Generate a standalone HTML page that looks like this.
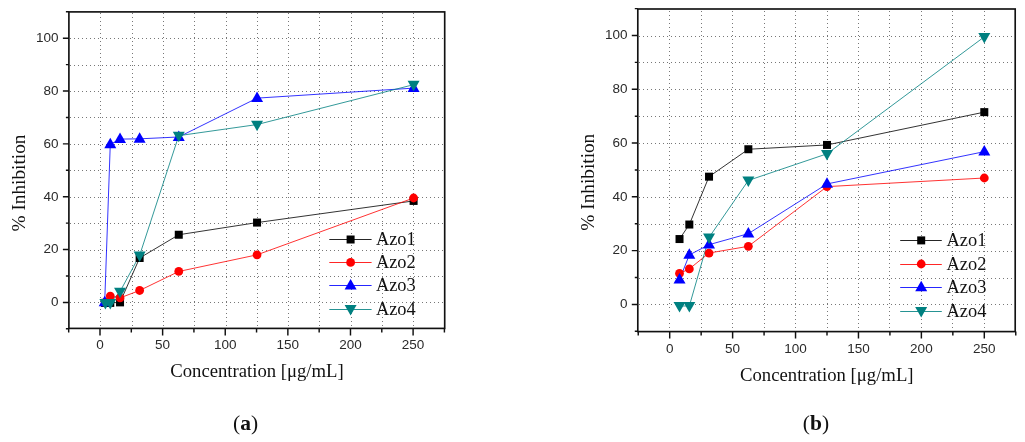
<!DOCTYPE html>
<html><head><meta charset="utf-8"><title>Inhibition charts</title>
<style>
html,body{margin:0;padding:0;background:#fff;}
body{width:1025px;height:442px;overflow:hidden;font-family:"Liberation Sans", sans-serif;}
svg{display:block;will-change:transform;}
</style></head><body>
<svg width="1025" height="442" viewBox="0 0 1025 442">
<rect width="1025" height="442" fill="#fff"/>
<path d="M100.5 13V326.9M132.5 13V326.9M163.5 13V326.9M194.5 13V326.9M226.5 13V326.9M257.5 13V326.9M288.5 13V326.9M319.5 13V326.9M351.5 13V326.9M382.5 13V326.9M413.5 13V326.9M70 302.5H443.2M70 276.5H443.2M70 250.5H443.2M70 223.5H443.2M70 197.5H443.2M70 170.5H443.2M70 144.5H443.2M70 117.5H443.2M70 91.5H443.2M70 65.5H443.2M70 38.5H443.2" stroke="#777" stroke-width="1" stroke-dasharray="1 3" fill="none"/>
<path d="M68.69 328.4V332.4M100 328.4V335.4M131.31 328.4V332.4M162.62 328.4V335.4M193.93 328.4V332.4M225.24 328.4V335.4M256.55 328.4V332.4M287.86 328.4V335.4M319.17 328.4V332.4M350.48 328.4V335.4M381.79 328.4V332.4M413.1 328.4V335.4M444.41 328.4V332.4M68.9 328.82H65.9M68.9 302.4H62.9M68.9 275.98H65.9M68.9 249.56H62.9M68.9 223.14H65.9M68.9 196.72H62.9M68.9 170.3H65.9M68.9 143.88H62.9M68.9 117.46H65.9M68.9 91.04H62.9M68.9 64.62H65.9M68.9 38.2H62.9M68.9 11.78H65.9" stroke="#111" stroke-width="1.45" fill="none"/>
<rect x="68.9" y="11.9" width="375.8" height="316.5" fill="none" stroke="#111" stroke-width="1.65"/>
<polyline points="104.88,302.9 110.27,302.9 120.04,302.37 139.64,257.99 178.77,234.74 257.05,222.58 413.6,200.92" fill="none" stroke="#000000" stroke-width="1" stroke-opacity="0.8"/>
<polyline points="105.38,302.11 110.27,296.03 120.04,297.88 139.64,290.48 178.77,271.46 257.05,254.82 413.6,198.01" fill="none" stroke="#ff0000" stroke-width="1" stroke-opacity="0.8"/>
<polyline points="104.7,302.37 110.27,144.38 120.04,139.1 139.64,138.83 178.77,136.98 257.05,98.14 413.6,88.11" fill="none" stroke="#0000ff" stroke-width="1" stroke-opacity="0.8"/>
<polyline points="105.38,302.9 110.27,302.9 120.04,291.54 139.64,255.34 178.77,135.66 257.05,124.56 413.6,84.67" fill="none" stroke="#008080" stroke-width="1" stroke-opacity="0.8"/>
<rect x="100.88" y="298.9" width="8" height="8" fill="#000000"/>
<rect x="106.27" y="298.9" width="8" height="8" fill="#000000"/>
<rect x="116.04" y="298.37" width="8" height="8" fill="#000000"/>
<rect x="135.64" y="253.99" width="8" height="8" fill="#000000"/>
<rect x="174.77" y="230.74" width="8" height="8" fill="#000000"/>
<rect x="253.05" y="218.58" width="8" height="8" fill="#000000"/>
<rect x="409.6" y="196.92" width="8" height="8" fill="#000000"/>
<circle cx="105.38" cy="302.11" r="4.4" fill="#ff0000"/>
<circle cx="110.27" cy="296.03" r="4.4" fill="#ff0000"/>
<circle cx="120.04" cy="297.88" r="4.4" fill="#ff0000"/>
<circle cx="139.64" cy="290.48" r="4.4" fill="#ff0000"/>
<circle cx="178.77" cy="271.46" r="4.4" fill="#ff0000"/>
<circle cx="257.05" cy="254.82" r="4.4" fill="#ff0000"/>
<circle cx="413.6" cy="198.01" r="4.4" fill="#ff0000"/>
<polygon points="104.7,295.77 110.7,306.27 98.7,306.27" fill="#0000ff"/>
<polygon points="110.27,137.78 116.27,148.28 104.27,148.28" fill="#0000ff"/>
<polygon points="120.04,132.5 126.04,143 114.04,143" fill="#0000ff"/>
<polygon points="139.64,132.23 145.64,142.73 133.64,142.73" fill="#0000ff"/>
<polygon points="178.77,130.38 184.77,140.88 172.77,140.88" fill="#0000ff"/>
<polygon points="257.05,91.54 263.05,102.04 251.05,102.04" fill="#0000ff"/>
<polygon points="413.6,81.51 419.6,92.01 407.6,92.01" fill="#0000ff"/>
<polygon points="105.38,309.5 111.38,299 99.38,299" fill="#008080"/>
<polygon points="110.27,309.5 116.27,299 104.27,299" fill="#008080"/>
<polygon points="120.04,298.14 126.04,287.64 114.04,287.64" fill="#008080"/>
<polygon points="139.64,261.94 145.64,251.44 133.64,251.44" fill="#008080"/>
<polygon points="178.77,142.26 184.77,131.76 172.77,131.76" fill="#008080"/>
<polygon points="257.05,131.16 263.05,120.66 251.05,120.66" fill="#008080"/>
<polygon points="413.6,91.27 419.6,80.77 407.6,80.77" fill="#008080"/>
<text x="58.5" y="306.2" text-anchor="end" font-family='"Liberation Sans", sans-serif' font-size="13.5" fill="#2a2a2a">0</text>
<text x="58.5" y="253.36" text-anchor="end" font-family='"Liberation Sans", sans-serif' font-size="13.5" fill="#2a2a2a">20</text>
<text x="58.5" y="200.52" text-anchor="end" font-family='"Liberation Sans", sans-serif' font-size="13.5" fill="#2a2a2a">40</text>
<text x="58.5" y="147.68" text-anchor="end" font-family='"Liberation Sans", sans-serif' font-size="13.5" fill="#2a2a2a">60</text>
<text x="58.5" y="94.84" text-anchor="end" font-family='"Liberation Sans", sans-serif' font-size="13.5" fill="#2a2a2a">80</text>
<text x="58.5" y="42" text-anchor="end" font-family='"Liberation Sans", sans-serif' font-size="13.5" fill="#2a2a2a">100</text>
<text x="100" y="349.3" text-anchor="middle" font-family='"Liberation Sans", sans-serif' font-size="13.5" fill="#2a2a2a">0</text>
<text x="162.62" y="349.3" text-anchor="middle" font-family='"Liberation Sans", sans-serif' font-size="13.5" fill="#2a2a2a">50</text>
<text x="225.24" y="349.3" text-anchor="middle" font-family='"Liberation Sans", sans-serif' font-size="13.5" fill="#2a2a2a">100</text>
<text x="287.86" y="349.3" text-anchor="middle" font-family='"Liberation Sans", sans-serif' font-size="13.5" fill="#2a2a2a">150</text>
<text x="350.48" y="349.3" text-anchor="middle" font-family='"Liberation Sans", sans-serif' font-size="13.5" fill="#2a2a2a">200</text>
<text x="413.1" y="349.3" text-anchor="middle" font-family='"Liberation Sans", sans-serif' font-size="13.5" fill="#2a2a2a">250</text>
<text x="257" y="376.5" text-anchor="middle" font-family='"Liberation Serif", serif' font-size="18.7" fill="#111">Concentration [μg/mL]</text>
<text transform="translate(25.2 183) rotate(-90)" text-anchor="middle" font-family='"Liberation Serif", serif' font-size="19.3" fill="#111">% Inhibition</text>
<path d="M329.3 239.5H371.6" stroke="#000000" stroke-width="1" stroke-opacity="0.85"/>
<rect x="346.6" y="235.5" width="8" height="8" fill="#000000"/>
<text x="375.9" y="245.1" font-family='"Liberation Serif", serif' font-size="18.4" fill="#111">Azo1</text>
<path d="M329.3 262.5H371.6" stroke="#ff0000" stroke-width="1" stroke-opacity="0.85"/>
<circle cx="350.6" cy="262.4" r="4.4" fill="#ff0000"/>
<text x="375.9" y="268" font-family='"Liberation Serif", serif' font-size="18.4" fill="#111">Azo2</text>
<path d="M329.3 285.5H371.6" stroke="#0000ff" stroke-width="1" stroke-opacity="0.85"/>
<polygon points="350.6,279.1 356.6,289.6 344.6,289.6" fill="#0000ff"/>
<text x="375.9" y="291.3" font-family='"Liberation Serif", serif' font-size="18.4" fill="#111">Azo3</text>
<path d="M329.3 309.5H371.6" stroke="#008080" stroke-width="1" stroke-opacity="0.85"/>
<polygon points="350.6,315.6 356.6,305.1 344.6,305.1" fill="#008080"/>
<text x="375.9" y="314.6" font-family='"Liberation Serif", serif' font-size="18.4" fill="#111">Azo4</text>
<text x="245.5" y="429.5" text-anchor="middle" font-family='"Liberation Serif", serif' font-size="21.5" fill="#111">(<tspan font-weight="bold">a</tspan>)</text>
<path d="M669.5 11V330.1M701.5 11V330.1M732.5 11V330.1M764.5 11V330.1M795.5 11V330.1M827.5 11V330.1M858.5 11V330.1M889.5 11V330.1M921.5 11V330.1M952.5 11V330.1M984.5 11V330.1M639 304.5H1013.7M639 278.5H1013.7M639 251.5H1013.7M639 224.5H1013.7M639 197.5H1013.7M639 170.5H1013.7M639 143.5H1013.7M639 116.5H1013.7M639 89.5H1013.7M639 62.5H1013.7M639 36.5H1013.7" stroke="#777" stroke-width="1" stroke-dasharray="1 3" fill="none"/>
<path d="M638.24 331.6V335.6M669.7 331.6V338.6M701.16 331.6V335.6M732.62 331.6V338.6M764.08 331.6V335.6M795.54 331.6V338.6M827 331.6V335.6M858.46 331.6V338.6M889.92 331.6V335.6M921.38 331.6V338.6M952.84 331.6V335.6M984.3 331.6V338.6M1015.76 331.6V335.6M637.8 331.29H634.8M637.8 304.4H631.8M637.8 277.51H634.8M637.8 250.62H631.8M637.8 223.73H634.8M637.8 196.84H631.8M637.8 169.95H634.8M637.8 143.06H631.8M637.8 116.17H634.8M637.8 89.28H631.8M637.8 62.39H634.8M637.8 35.5H631.8M637.8 8.61H634.8" stroke="#111" stroke-width="1.45" fill="none"/>
<rect x="637.8" y="9" width="377.4" height="322.6" fill="none" stroke="#111" stroke-width="1.65"/>
<polyline points="679.52,239.05 689.33,224.53 709.03,176.67 748.35,149.24 827,144.94 984.3,112.13" fill="none" stroke="#000000" stroke-width="1" stroke-opacity="0.8"/>
<polyline points="679.52,273.47 689.33,268.9 709.03,253.03 748.35,246.31 827,186.62 984.3,178.01" fill="none" stroke="#ff0000" stroke-width="1" stroke-opacity="0.8"/>
<polyline points="679.52,279.65 689.33,254.92 709.03,244.7 748.35,233.67 827,183.93 984.3,151.66" fill="none" stroke="#0000ff" stroke-width="1" stroke-opacity="0.8"/>
<polyline points="679.52,306.01 689.33,306.01 709.03,237.44 748.35,180.43 827,153.81 984.3,36.84" fill="none" stroke="#008080" stroke-width="1" stroke-opacity="0.8"/>
<rect x="675.52" y="235.05" width="8" height="8" fill="#000000"/>
<rect x="685.33" y="220.53" width="8" height="8" fill="#000000"/>
<rect x="705.03" y="172.67" width="8" height="8" fill="#000000"/>
<rect x="744.35" y="145.24" width="8" height="8" fill="#000000"/>
<rect x="823" y="140.94" width="8" height="8" fill="#000000"/>
<rect x="980.3" y="108.13" width="8" height="8" fill="#000000"/>
<circle cx="679.52" cy="273.47" r="4.4" fill="#ff0000"/>
<circle cx="689.33" cy="268.9" r="4.4" fill="#ff0000"/>
<circle cx="709.03" cy="253.03" r="4.4" fill="#ff0000"/>
<circle cx="748.35" cy="246.31" r="4.4" fill="#ff0000"/>
<circle cx="827" cy="186.62" r="4.4" fill="#ff0000"/>
<circle cx="984.3" cy="178.01" r="4.4" fill="#ff0000"/>
<polygon points="679.52,273.05 685.52,283.55 673.52,283.55" fill="#0000ff"/>
<polygon points="689.33,248.32 695.33,258.82 683.33,258.82" fill="#0000ff"/>
<polygon points="709.03,238.1 715.03,248.6 703.03,248.6" fill="#0000ff"/>
<polygon points="748.35,227.07 754.35,237.57 742.35,237.57" fill="#0000ff"/>
<polygon points="827,177.33 833,187.83 821,187.83" fill="#0000ff"/>
<polygon points="984.3,145.06 990.3,155.56 978.3,155.56" fill="#0000ff"/>
<polygon points="679.52,312.61 685.52,302.11 673.52,302.11" fill="#008080"/>
<polygon points="689.33,312.61 695.33,302.11 683.33,302.11" fill="#008080"/>
<polygon points="709.03,244.04 715.03,233.54 703.03,233.54" fill="#008080"/>
<polygon points="748.35,187.03 754.35,176.53 742.35,176.53" fill="#008080"/>
<polygon points="827,160.41 833,149.91 821,149.91" fill="#008080"/>
<polygon points="984.3,43.44 990.3,32.94 978.3,32.94" fill="#008080"/>
<text x="627.5" y="308.2" text-anchor="end" font-family='"Liberation Sans", sans-serif' font-size="13.5" fill="#2a2a2a">0</text>
<text x="627.5" y="254.42" text-anchor="end" font-family='"Liberation Sans", sans-serif' font-size="13.5" fill="#2a2a2a">20</text>
<text x="627.5" y="200.64" text-anchor="end" font-family='"Liberation Sans", sans-serif' font-size="13.5" fill="#2a2a2a">40</text>
<text x="627.5" y="146.86" text-anchor="end" font-family='"Liberation Sans", sans-serif' font-size="13.5" fill="#2a2a2a">60</text>
<text x="627.5" y="93.08" text-anchor="end" font-family='"Liberation Sans", sans-serif' font-size="13.5" fill="#2a2a2a">80</text>
<text x="627.5" y="39.3" text-anchor="end" font-family='"Liberation Sans", sans-serif' font-size="13.5" fill="#2a2a2a">100</text>
<text x="669.7" y="353.4" text-anchor="middle" font-family='"Liberation Sans", sans-serif' font-size="13.5" fill="#2a2a2a">0</text>
<text x="732.62" y="353.4" text-anchor="middle" font-family='"Liberation Sans", sans-serif' font-size="13.5" fill="#2a2a2a">50</text>
<text x="795.54" y="353.4" text-anchor="middle" font-family='"Liberation Sans", sans-serif' font-size="13.5" fill="#2a2a2a">100</text>
<text x="858.46" y="353.4" text-anchor="middle" font-family='"Liberation Sans", sans-serif' font-size="13.5" fill="#2a2a2a">150</text>
<text x="921.38" y="353.4" text-anchor="middle" font-family='"Liberation Sans", sans-serif' font-size="13.5" fill="#2a2a2a">200</text>
<text x="984.3" y="353.4" text-anchor="middle" font-family='"Liberation Sans", sans-serif' font-size="13.5" fill="#2a2a2a">250</text>
<text x="826.8" y="381" text-anchor="middle" font-family='"Liberation Serif", serif' font-size="18.7" fill="#111">Concentration [μg/mL]</text>
<text transform="translate(593.6 182.2) rotate(-90)" text-anchor="middle" font-family='"Liberation Serif", serif' font-size="19.3" fill="#111">% Inhibition</text>
<path d="M900.2 240.5H941.8" stroke="#000000" stroke-width="1" stroke-opacity="0.85"/>
<rect x="917.2" y="236.4" width="8" height="8" fill="#000000"/>
<text x="946.6" y="246.4" font-family='"Liberation Serif", serif' font-size="18.4" fill="#111">Azo1</text>
<path d="M900.2 264.5H941.8" stroke="#ff0000" stroke-width="1" stroke-opacity="0.85"/>
<circle cx="921.2" cy="264" r="4.4" fill="#ff0000"/>
<text x="946.6" y="270" font-family='"Liberation Serif", serif' font-size="18.4" fill="#111">Azo2</text>
<path d="M900.2 287.5H941.8" stroke="#0000ff" stroke-width="1" stroke-opacity="0.85"/>
<polygon points="921.2,280.8 927.2,291.3 915.2,291.3" fill="#0000ff"/>
<text x="946.6" y="293.4" font-family='"Liberation Serif", serif' font-size="18.4" fill="#111">Azo3</text>
<path d="M900.2 311.5H941.8" stroke="#008080" stroke-width="1" stroke-opacity="0.85"/>
<polygon points="921.2,317.6 927.2,307.1 915.2,307.1" fill="#008080"/>
<text x="946.6" y="317" font-family='"Liberation Serif", serif' font-size="18.4" fill="#111">Azo4</text>
<text x="816" y="429.6" text-anchor="middle" font-family='"Liberation Serif", serif' font-size="21.5" fill="#111">(<tspan font-weight="bold">b</tspan>)</text>
</svg>
</body></html>
